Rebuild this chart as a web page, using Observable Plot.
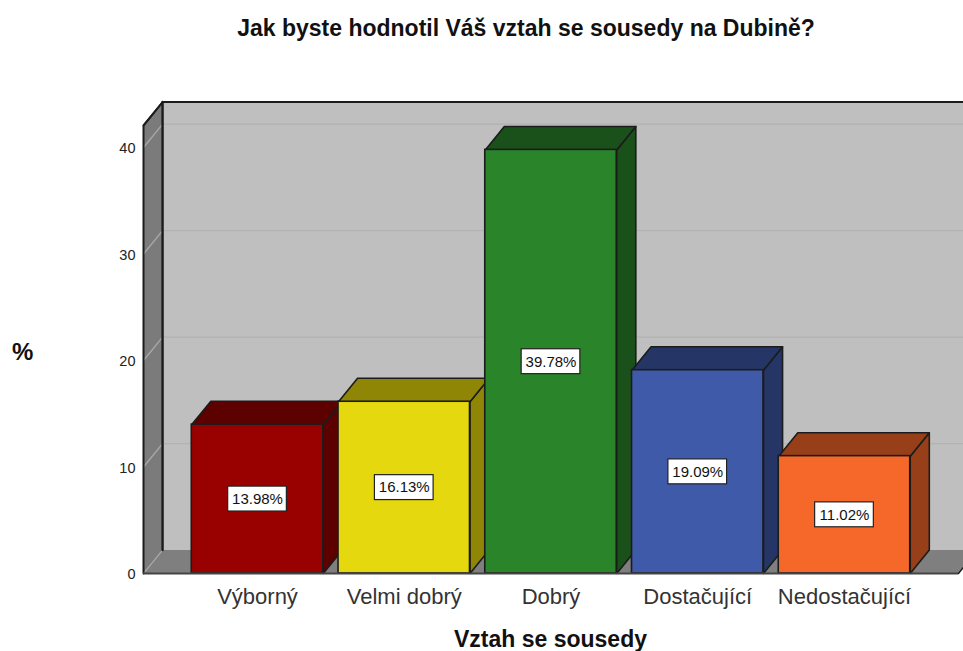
<!DOCTYPE html>
<html lang="cs">
<head>
<meta charset="utf-8">
<script src="https://cdn.jsdelivr.net/npm/d3@7"></script>
<script src="https://cdn.jsdelivr.net/npm/@observablehq/plot@0.6"></script>
<style>
  html, body { margin: 0; padding: 0; background: #fff; overflow: hidden; }
  #title { height: 46px; width: 963px; box-sizing: border-box; padding-left: 89px; padding-top: 15px; text-align: center; white-space: nowrap;
           font: bold 23px/26px "Liberation Sans", Arial, sans-serif; color: #111; }
  svg { display: block; }
</style>
</head>
<body>
<div id="title">Jak byste hodnotil Váš vztah se sousedy na Dubině?</div>
<div id="chart"></div>
<script>
const categories = ["Výborný", "Velmi dobrý", "Dobrý", "Dostačující", "Nedostačující"];
const values = [13.98, 16.13, 39.78, 19.09, 11.02];
const frontColors = ["#990000", "#e5d80e", "#2a842a", "#3f5aa8", "#f6682a"];
const darkColors = ["#5c0000", "#8f8605", "#1a501a", "#253566", "#973f18"];
const yTicks = [0, 10, 20, 30, 40];
const xLabel = "Vztah se sousedy";
const yLabel = "%";

// Perspective offset of the 3D box, expressed in scale units
const depthX = 0.13, depthY = 2.2, halfBar = 0.448;
const xMin = -0.777, xMax = 4.777, yMax = 42.07;
const edge = "#1c1c1c";

const poly = (pts, fill, stroke = edge, strokeWidth = 1.6) =>
  Plot.line(pts.concat([pts[0]]).map(([x, y]) => ({x, y})),
    {x: "x", y: "y", fill, stroke, strokeWidth, strokeLinejoin: "round"});
const path = (pts, stroke = edge, strokeWidth = 2) =>
  Plot.line(pts.map(([x, y]) => ({x, y})), {x: "x", y: "y", stroke, strokeWidth, strokeLinejoin: "round"});

const backLeft = xMin + depthX, wallRight = xMax + 2 * depthX, wallTop = yMax + depthY;
const backWall = [[backLeft, depthY], [wallRight, depthY], [wallRight, wallTop], [backLeft, wallTop]];
const leftWall = [[xMin, 0], [backLeft, depthY], [backLeft, wallTop], [xMin, yMax]];
const floor = [[xMin, 0], [xMax, 0], [xMax + depthX, depthY], [backLeft, depthY]];

const grid = yTicks.slice(1);
const bars = categories.map((c, i) => ({c, i, v: values[i]}));

const plot = Plot.plot({
  width: 963,
  height: 605,
  marginLeft: 143,
  marginRight: 5,
  marginTop: 79,
  marginBottom: 78,
  style: {fontFamily: '"Liberation Sans", Arial, sans-serif', background: "#fff"},
  x: {domain: [xMin, xMax], axis: null},
  y: {domain: [0, yMax], axis: null},
  marks: [
    poly(backWall, "#bfbfbf", "none"),
    poly(leftWall, "#7b7b7b", "none"),
    poly(floor, "#7f7f7f", "none"),
    // gridlines on the back wall and running down the left wall
    Plot.ruleY(grid, {y: d => d + depthY, x1: backLeft, x2: wallRight, stroke: "#b2b2b2", strokeWidth: 1.4}),
    Plot.link(grid, {x1: xMin, y1: d => d, x2: backLeft, y2: d => d + depthY, stroke: "#a8a8a8", strokeWidth: 1.4}),
    Plot.link([0], {x1: xMin, y1: 0, x2: backLeft, y2: depthY, stroke: "#a8a8a8", strokeWidth: 1.2}),
    // wall outline
    path([[xMin, 0], [xMin, yMax], [backLeft, wallTop], [wallRight, wallTop]], edge, 2),
    path([[backLeft, depthY], [backLeft, wallTop]], edge, 2.4),
    path([[xMin, yMax], [backLeft, wallTop]], edge, 1.6),
    path([[xMax, 0], [xMax + depthX, depthY]], edge, 1.4),
    // bars, left to right so each overlaps its neighbour's side face
    ...bars.flatMap(d => {
      const l = d.i - halfBar, r = d.i + halfBar;
      return [
        poly([[r, 0], [r + depthX, depthY], [r + depthX, d.v + depthY], [r, d.v]], darkColors[d.i]),
        poly([[l, d.v], [r, d.v], [r + depthX, d.v + depthY], [l + depthX, d.v + depthY]], darkColors[d.i]),
        Plot.rect([d], {x1: l, x2: r, y1: 0, y2: "v", fill: frontColors[d.i], stroke: edge, strokeWidth: 1.6})
      ];
    }),
    Plot.ruleY([0], {x1: xMin, x2: xMax, stroke: "#444", strokeWidth: 2}),
    // value boxes
    Plot.rect(bars, {x1: d => d.i - 0.2, x2: d => d.i + 0.2, y1: d => d.v / 2 - 1.17, y2: d => d.v / 2 + 1.17, fill: "#fff", stroke: "#222", strokeWidth: 1.2}),
    Plot.text(bars, {x: "i", y: d => d.v / 2, text: d => d.v.toFixed(2) + "%", fontSize: 15, fill: "#111"}),
    // axes
    Plot.axisY({ticks: yTicks, tickSize: 0, tickPadding: 8, dy: 1, fontSize: 14.5, color: "#222", label: null}),
    Plot.axisX({ticks: d3.range(categories.length), tickFormat: i => categories[i], tickSize: 0, tickPadding: 15, fontSize: 22, color: "#333", label: null}),
    Plot.text([xLabel], {frameAnchor: "bottom", dy: 73, dx: -0.5, fontSize: 23, fontWeight: "bold", fill: "#111"}),
    Plot.text([yLabel], {frameAnchor: "left", dx: -131.5, dy: 3, fontSize: 24, fontWeight: "bold", fill: "#111"})
  ]
});
document.getElementById("chart").appendChild(plot);
</script>
</body>
</html>
